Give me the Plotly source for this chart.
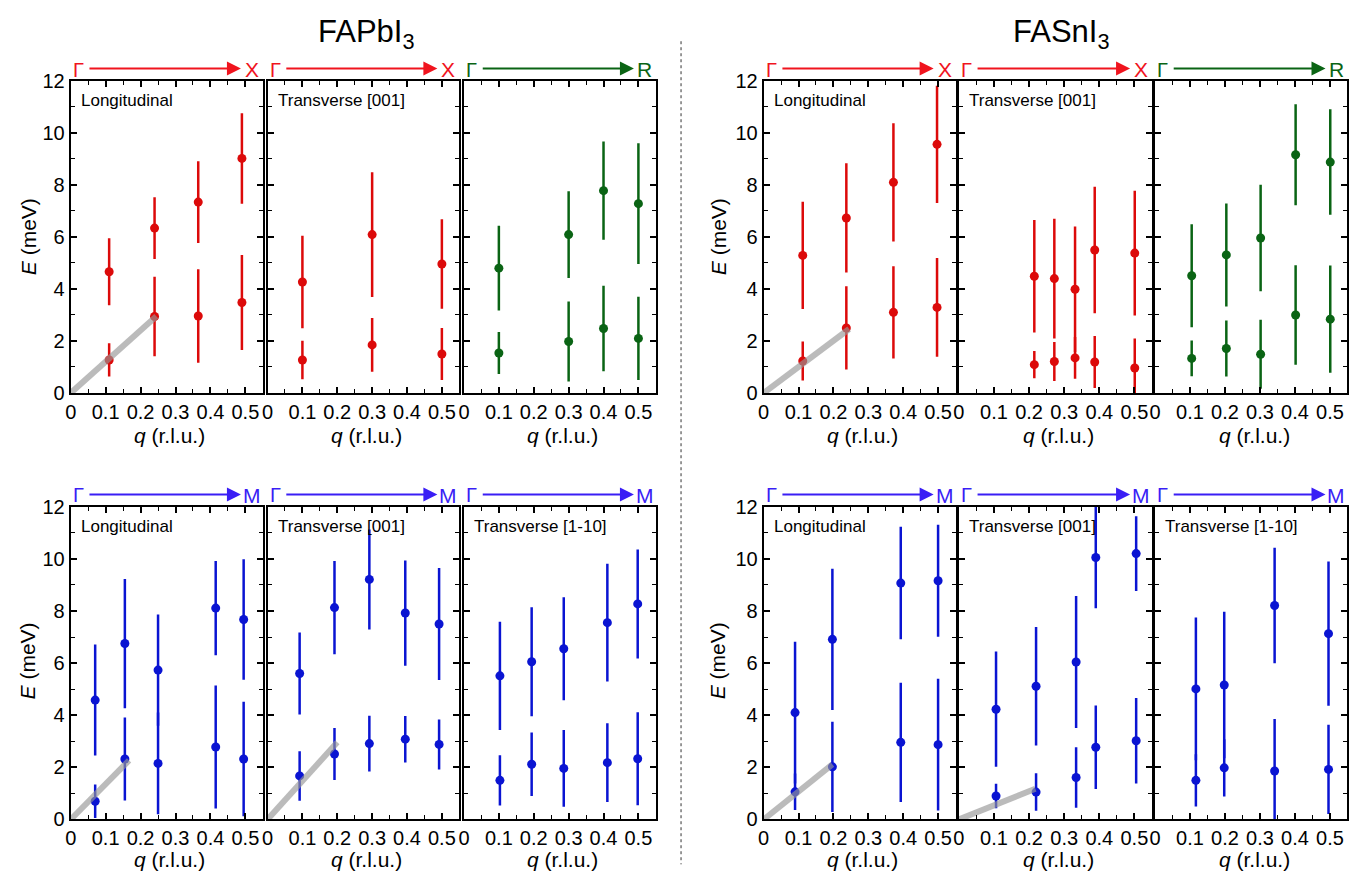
import plotly.graph_objects as go

W, H = 1371, 888

# ---------------- data (q in r.l.u., E in meV, symmetric errors) ----------------
# FAPbI3, Gamma-X, Longitudinal
pb_gx_l_q = [0.11, 0.24, 0.365, 0.49]
pb_gx_l_hi = [4.66, 6.34, 7.34, 9.02]
pb_gx_l_hi_err = [1.29, 1.19, 1.57, 1.74]
pb_gx_l_lo = [1.27, 2.94, 2.96, 3.48]
pb_gx_l_lo_err = [0.64, 1.53, 1.80, 1.83]
pb_gx_l_sound_q = [0, 0.245]
pb_gx_l_sound_e = [0, 2.95]

# FAPbI3, Gamma-X, Transverse [001]
pb_gx_t_q = [0.1, 0.3, 0.5]
pb_gx_t_hi = [4.27, 6.09, 4.96]
pb_gx_t_hi_err = [1.78, 2.40, 1.72]
pb_gx_t_lo = [1.27, 1.85, 1.50]
pb_gx_t_lo_err = [0.74, 1.03, 1.00]

# FAPbI3, Gamma-R
pb_gr_q = [0.1, 0.3, 0.4, 0.5]
pb_gr_hi = [4.80, 6.09, 7.78, 7.28]
pb_gr_hi_err = [1.63, 1.67, 1.89, 2.32]
pb_gr_lo = [1.54, 1.98, 2.48, 2.10]
pb_gr_lo_err = [0.81, 1.54, 1.64, 1.60]

# FAPbI3, Gamma-M, Longitudinal
pb_gm_l_q = [0.07, 0.155, 0.25, 0.415, 0.495]
pb_gm_l_hi = [4.58, 6.75, 5.73, 8.11, 7.67]
pb_gm_l_hi_err = [2.13, 2.48, 2.13, 1.81, 2.31]
pb_gm_l_lo = [0.70, 2.32, 2.15, 2.78, 2.32]
pb_gm_l_lo_err = [0.64, 1.59, 1.95, 2.36, 2.20]
pb_gm_l_sound_q = [0, 0.167]
pb_gm_l_sound_e = [0, 2.27]

# FAPbI3, Gamma-M, Transverse [001]
pb_gm_t1_q = [0.092, 0.192, 0.292, 0.395, 0.492]
pb_gm_t1_hi = [5.60, 8.13, 9.21, 7.92, 7.50]
pb_gm_t1_hi_err = [1.57, 1.79, 1.92, 2.02, 2.15]
pb_gm_t1_lo = [1.67, 2.51, 2.91, 3.08, 2.88]
pb_gm_t1_lo_err = [0.95, 1.00, 1.07, 0.89, 0.96]
pb_gm_t1_sound_q = [0, 0.2]
pb_gm_t1_sound_e = [0, 2.96]

# FAPbI3, Gamma-M, Transverse [1-10]
pb_gm_t2_q = [0.103, 0.194, 0.286, 0.411, 0.498]
pb_gm_t2_hi = [5.51, 6.05, 6.55, 7.55, 8.27]
pb_gm_t2_hi_err = [2.08, 2.09, 1.98, 2.26, 2.09]
pb_gm_t2_lo = [1.50, 2.12, 1.96, 2.18, 2.33]
pb_gm_t2_lo_err = [0.96, 1.22, 1.47, 1.51, 1.78]

# FASnI3, Gamma-X, Longitudinal
sn_gx_l_q = [0.112, 0.237, 0.372, 0.497]
sn_gx_l_hi = [5.29, 6.73, 8.10, 9.56]
sn_gx_l_hi_err = [2.06, 2.10, 2.27, 2.25]
sn_gx_l_lo = [1.23, 2.50, 3.10, 3.29]
sn_gx_l_lo_err = [0.75, 1.60, 1.77, 1.90]
sn_gx_l_sound_q = [0, 0.245]
sn_gx_l_sound_e = [0, 2.46]

# FASnI3, Gamma-X, Transverse [001]
sn_gx_t_q = [0.215, 0.272, 0.331, 0.387, 0.501]
sn_gx_t_hi = [4.49, 4.40, 3.99, 5.50, 5.38]
sn_gx_t_hi_err = [2.16, 2.30, 2.41, 2.43, 2.40]
sn_gx_t_lo = [1.09, 1.21, 1.35, 1.19, 0.96]
sn_gx_t_lo_err = [0.52, 0.75, 0.80, 1.00, 1.14]

# FASnI3, Gamma-R
sn_gr_q = [0.105, 0.204, 0.302, 0.402, 0.501]
sn_gr_hi = [4.51, 5.31, 5.96, 9.16, 8.88]
sn_gr_hi_err = [1.98, 1.98, 2.05, 1.94, 2.03]
sn_gr_lo = [1.33, 1.71, 1.49, 3.00, 2.84]
sn_gr_lo_err = [0.69, 1.08, 1.33, 1.91, 2.06]

# FASnI3, Gamma-M, Longitudinal
sn_gm_l_q = [0.09, 0.197, 0.393, 0.5]
sn_gm_l_hi = [4.10, 6.91, 9.07, 9.16]
sn_gm_l_hi_err = [2.72, 2.71, 2.16, 2.15]
sn_gm_l_lo = [1.06, 2.02, 2.96, 2.87]
sn_gm_l_lo_err = [0.70, 1.73, 2.29, 2.53]
sn_gm_l_sound_q = [0, 0.197]
sn_gm_l_sound_e = [0, 2.11]

# FASnI3, Gamma-M, Transverse [001]
sn_gm_t1_q = [0.106, 0.22, 0.334, 0.39, 0.505]
sn_gm_t1_hi = [4.23, 5.11, 6.04, 10.05, 10.20]
sn_gm_t1_hi_err = [2.21, 2.27, 2.53, 1.95, 1.43]
sn_gm_t1_lo = [0.90, 1.05, 1.61, 2.77, 3.02]
sn_gm_t1_lo_err = [0.47, 0.72, 1.16, 1.60, 1.64]
sn_gm_t1_sound_q = [0, 0.218]
sn_gm_t1_sound_e = [0, 1.18]

# FASnI3, Gamma-M, Transverse [1-10]
sn_gm_t2_q = [0.117, 0.198, 0.342, 0.496]
sn_gm_t2_hi = [5.01, 5.16, 8.21, 7.13]
sn_gm_t2_hi_err = [2.74, 2.81, 2.22, 2.77]
sn_gm_t2_lo = [1.50, 1.98, 1.86, 1.92]
sn_gm_t2_lo_err = [1.00, 1.10, 1.99, 1.71]

x_ticks = [0, 0.1, 0.2, 0.3, 0.4, 0.5]
x_ticktext = ["0", "0.1", "0.2", "0.3", "0.4", "0.5"]
y_ticks = [0, 2, 4, 6, 8, 10, 12]

titles = ["FAPbI<sub>3</sub>", "FASnI<sub>3</sub>"]

# ---------------- styling ----------------
RED_ARROW, RED = "#f0141e", "#dc0a0a"
GREEN_ARROW, GREEN = "#0a6414", "#0a6414"
BLUE_ARROW, BLUE = "#3a1ef5", "#0a14d2"
GRAY = "rgba(150,150,150,0.65)"
FONT = "Liberation Sans, Arial, Helvetica, sans-serif"

col_px = [(65, 258), (262.7, 455.3), (460, 652.7),
          (761, 953.7), (957, 1151), (1154, 1347.3)]
row_px = [(71.7, 391.7), (508.3, 829)]

panels = [
    # (row, col, q, hi, hi_err, lo, lo_err, sound, color, arrowcolor, label, endpoint)
    (0, 0, pb_gx_l_q, pb_gx_l_hi, pb_gx_l_hi_err, pb_gx_l_lo, pb_gx_l_lo_err,
     (pb_gx_l_sound_q, pb_gx_l_sound_e), RED, RED_ARROW, "Longitudinal", "X"),
    (0, 1, pb_gx_t_q, pb_gx_t_hi, pb_gx_t_hi_err, pb_gx_t_lo, pb_gx_t_lo_err,
     None, RED, RED_ARROW, "Transverse [001]", "X"),
    (0, 2, pb_gr_q, pb_gr_hi, pb_gr_hi_err, pb_gr_lo, pb_gr_lo_err,
     None, GREEN, GREEN_ARROW, "", "R"),
    (0, 3, sn_gx_l_q, sn_gx_l_hi, sn_gx_l_hi_err, sn_gx_l_lo, sn_gx_l_lo_err,
     (sn_gx_l_sound_q, sn_gx_l_sound_e), RED, RED_ARROW, "Longitudinal", "X"),
    (0, 4, sn_gx_t_q, sn_gx_t_hi, sn_gx_t_hi_err, sn_gx_t_lo, sn_gx_t_lo_err,
     None, RED, RED_ARROW, "Transverse [001]", "X"),
    (0, 5, sn_gr_q, sn_gr_hi, sn_gr_hi_err, sn_gr_lo, sn_gr_lo_err,
     None, GREEN, GREEN_ARROW, "", "R"),
    (1, 0, pb_gm_l_q, pb_gm_l_hi, pb_gm_l_hi_err, pb_gm_l_lo, pb_gm_l_lo_err,
     (pb_gm_l_sound_q, pb_gm_l_sound_e), BLUE, BLUE_ARROW, "Longitudinal", "M"),
    (1, 1, pb_gm_t1_q, pb_gm_t1_hi, pb_gm_t1_hi_err, pb_gm_t1_lo, pb_gm_t1_lo_err,
     (pb_gm_t1_sound_q, pb_gm_t1_sound_e), BLUE, BLUE_ARROW, "Transverse [001]", "M"),
    (1, 2, pb_gm_t2_q, pb_gm_t2_hi, pb_gm_t2_hi_err, pb_gm_t2_lo, pb_gm_t2_lo_err,
     None, BLUE, BLUE_ARROW, "Transverse [1-10]", "M"),
    (1, 3, sn_gm_l_q, sn_gm_l_hi, sn_gm_l_hi_err, sn_gm_l_lo, sn_gm_l_lo_err,
     (sn_gm_l_sound_q, sn_gm_l_sound_e), BLUE, BLUE_ARROW, "Longitudinal", "M"),
    (1, 4, sn_gm_t1_q, sn_gm_t1_hi, sn_gm_t1_hi_err, sn_gm_t1_lo, sn_gm_t1_lo_err,
     (sn_gm_t1_sound_q, sn_gm_t1_sound_e), BLUE, BLUE_ARROW, "Transverse [001]", "M"),
    (1, 5, sn_gm_t2_q, sn_gm_t2_hi, sn_gm_t2_hi_err, sn_gm_t2_lo, sn_gm_t2_lo_err,
     None, BLUE, BLUE_ARROW, "Transverse [1-10]", "M"),
]


def fx(p):
    return p / W


def fy(p):
    return 1 - p / H


fig = go.Figure()
layout = {}
annotations = []

for k, (row, col, q, hi, hie, lo, loe, sound, color, acolor, label, endp) in enumerate(panels, start=1):
    xs = "" if k == 1 else str(k)
    x0, x1 = col_px[col]
    y0, y1 = row_px[row]
    layout["xaxis" + xs] = dict(
        domain=[fx(x0), fx(x1)], range=[0, 0.55], anchor="y" + xs,
        tickmode="array", tickvals=x_ticks, ticktext=x_ticktext,
        ticks="inside", ticklen=6, tickwidth=1.5, tickcolor="black",
        minor=dict(dtick=0.05, tick0=0, ticks="inside", ticklen=4, tickwidth=1.2,
                   tickcolor="black", showgrid=False),
        mirror="allticks", showline=True, linewidth=2, linecolor="black",
        showgrid=False, zeroline=False, fixedrange=True,
        tickfont=dict(family=FONT, size=20, color="black"),
    )
    layout["yaxis" + xs] = dict(
        domain=[fy(y1), fy(y0)], range=[0, 12], anchor="x" + xs,
        tickmode="array", tickvals=y_ticks,
        ticks="inside", ticklen=6, tickwidth=1.5, tickcolor="black",
        minor=dict(dtick=1, tick0=0, ticks="inside", ticklen=4, tickwidth=1.2,
                   tickcolor="black", showgrid=False),
        mirror="allticks", showline=True, linewidth=2, linecolor="black",
        showgrid=False, zeroline=False, fixedrange=True,
        showticklabels=(col in (0, 3)),
        tickfont=dict(family=FONT, size=20, color="black"),
    )
    fig.add_trace(go.Scatter(
        x=list(q) + list(q), y=list(hi) + list(lo), mode="markers",
        marker=dict(size=9, color=color),
        error_y=dict(type="data", array=list(hie) + list(loe), visible=True,
                     thickness=2.5, width=0, color=color),
        xaxis="x" + xs, yaxis="y" + xs, showlegend=False, hoverinfo="skip",
    ))
    if sound is not None:
        fig.add_trace(go.Scatter(
            x=sound[0], y=sound[1], mode="lines",
            line=dict(color=GRAY, width=6),
            xaxis="x" + xs, yaxis="y" + xs, showlegend=False, hoverinfo="skip",
        ))

    # path arrow above panel
    ay_px = 59 if row == 0 else 495.7
    annotations.append(dict(
        x=fx(x1 - 22), y=fy(ay_px), xref="paper", yref="paper", text="",
        showarrow=True, ax=-(x1 - 22 - (x0 + 18)), ay=0, axref="pixel", ayref="pixel",
        arrowhead=2, arrowsize=1.4, arrowwidth=2, arrowcolor=acolor, standoff=0,
    ))
    annotations.append(dict(
        x=fx(x0 + 7.5), y=fy(ay_px + 1), xref="paper", yref="paper", text="Γ",
        showarrow=False, xanchor="center", yanchor="middle",
        font=dict(family=FONT, size=20, color=acolor),
    ))
    annotations.append(dict(
        x=fx(x1 - 11), y=fy(ay_px + 1), xref="paper", yref="paper", text=endp,
        showarrow=False, xanchor="center", yanchor="middle",
        font=dict(family=FONT, size=21, color=acolor),
    ))
    if label:
        annotations.append(dict(
            x=fx(x0 + 8), y=fy(y0 + 20), xref="paper", yref="paper", text=label,
            showarrow=False, xanchor="left", yanchor="middle",
            font=dict(family=FONT, size=17, color="black"),
        ))
    # q axis title
    annotations.append(dict(
        x=fx((x0 + x1) / 2 + 3), y=fy(435 if row == 0 else 870), xref="paper", yref="paper",
        text="<i>q</i> (r.l.u.)", showarrow=False, xanchor="center", yanchor="middle",
        font=dict(family=FONT, size=21, color="black"),
    ))

# E axis titles
for ex in (22, 715):
    for ey in (231, 666):
        annotations.append(dict(
            x=fx(ex), y=fy(ey), xref="paper", yref="paper", text="<i>E</i> (meV)",
            showarrow=False, textangle=-90, xanchor="center", yanchor="middle",
            font=dict(family=FONT, size=21, color="black"),
        ))

# group titles
for tx, t in zip((362, 1060), titles):
    annotations.append(dict(
        x=fx(tx), y=fy(1), xref="paper", yref="paper", text=t,
        showarrow=False, xanchor="center", yanchor="top",
        font=dict(family=FONT, size=31, color="black"),
    ))

shapes = [dict(type="line", xref="paper", yref="paper",
               x0=fx(678), x1=fx(678), y0=fy(31), y1=fy(875),
               line=dict(color="#333333", width=1, dash="dot"))]

fig.update_layout(
    width=W, height=H, autosize=False,
    margin=dict(l=0, r=0, t=0, b=0),
    paper_bgcolor="white", plot_bgcolor="white",
    font=dict(family=FONT, color="black"),
    annotations=annotations, shapes=shapes, **layout,
)

fig.write_html("out.html", config={"displayModeBar": False},
               post_script="document.body.style.margin='0';document.body.style.overflow='hidden';")
